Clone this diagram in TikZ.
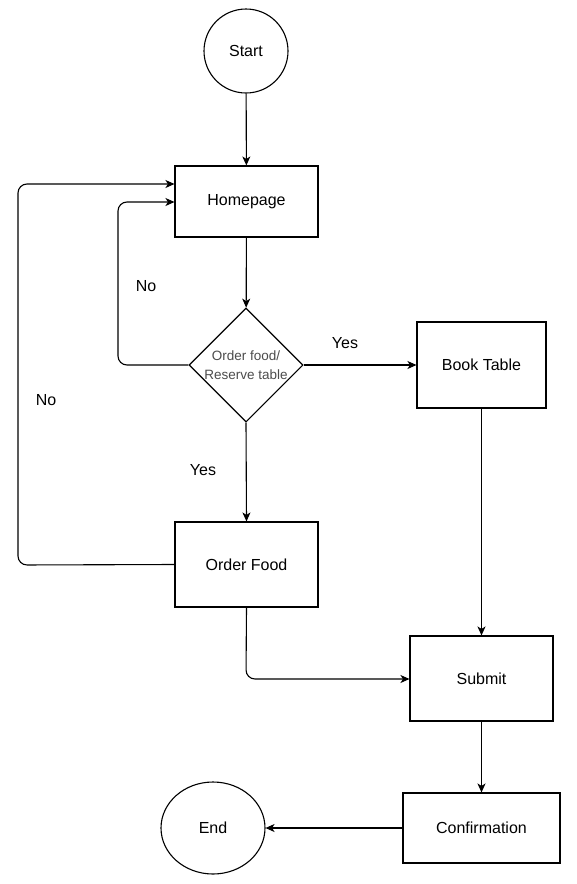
\documentclass[tikz,border=0pt]{standalone}
\usepackage{fontspec}
\setmainfont{Liberation Sans}
\usetikzlibrary{arrows.meta,shapes.geometric}
\begin{document}
\begin{tikzpicture}[x=1pt,y=-1pt,
  every node/.style={font=\fontsize{16}{19}\selectfont},
  line/.style={draw=black,line width=1.1pt},
  arr/.style={line,-{Stealth[length=9pt,width=8pt,inset=2.5pt]},rounded corners=9pt},
  box/.style={draw=black,line width=1.1pt,rectangle,inner sep=0pt},
  lbl/.style={font=\fontsize{16}{19}\selectfont}
]
\useasboundingbox (0,0) rectangle (576,884);
\fill[white] (0,0) rectangle (576,884);
\node[line,circle,minimum size=84pt,inner sep=0pt] (start) at (246,51) {Start};
\node[box,minimum width=143pt,minimum height=71pt] (home) at (246.5,201.5) {Homepage};
\node[line,diamond,minimum width=114pt,minimum height=114pt,inner sep=0pt,aspect=1,
  align=center,font=\fontsize{13.5}{19}\selectfont,text=black!70] (dec) at (246,365) {\makebox[0pt]{Order food/}\\\makebox[0pt]{Reserve table}};
\node[box,minimum width=129pt,minimum height=86pt] (book) at (481.5,365) {Book Table};
\node[box,minimum width=143pt,minimum height=85pt] (order) at (246.5,564.5) {Order Food};
\node[box,minimum width=143pt,minimum height=85pt] (submit) at (481.5,678.5) {Submit};
\node[box,minimum width=157pt,minimum height=70pt] (conf) at (481.5,828) {Confirmation};
\node[line,ellipse,minimum width=104pt,minimum height=92pt,inner sep=0pt] (end) at (213,828) {End};

\draw[arr] (start) -- (home);
\draw[arr] (home) -- (dec);
\draw[arr] (dec.west) -- (118,365) -- (118,202) -- (home.west |- 0,202);
\draw[arr] (dec.east) -- (book.west);
\draw[arr] (dec.south) -- (order.north);
\draw[arr] (order.west) -- (18,565) -- (18,184) -- (home.west |- 0,184);
\draw[arr] (book.south) -- (submit.north);
\draw[arr] (order.south) -- (246,679) -- (submit.west |- 0,679);
\draw[arr] (submit.south) -- (conf.north);
\draw[arr] (conf.west) -- (end.east);

\node[lbl] (no1) at (146,286) {No};
\node[lbl] (no2) at (46,400) {No};
\node[lbl] (yes1) at (345,343) {Yes};
\node[lbl] (yes2) at (203,470) {Yes};
\end{tikzpicture}
\end{document}
